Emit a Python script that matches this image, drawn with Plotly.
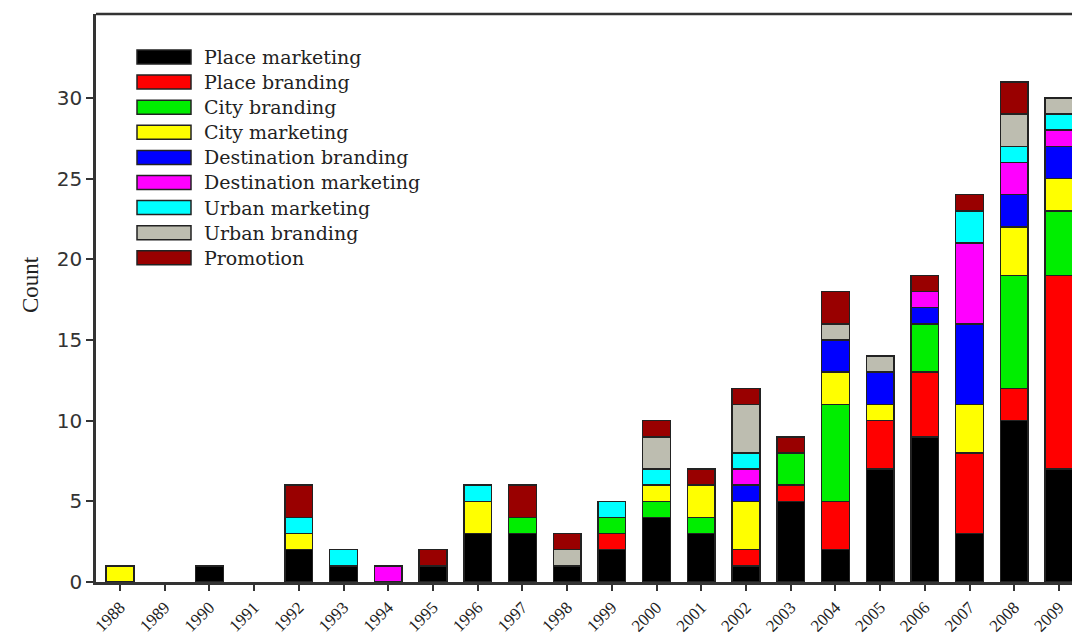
import plotly.graph_objects as go

years = [str(y) for y in range(1988, 2010)]

place_marketing       = [0,0,1,0,2,1,0,1,3,3,1,2,4,3,1,5,2,7,9,3,10,7]
place_branding        = [0,0,0,0,0,0,0,0,0,0,0,1,0,0,1,1,3,3,4,5,2,12]
city_branding         = [0,0,0,0,0,0,0,0,0,1,0,1,1,1,0,2,6,0,3,0,7,4]
city_marketing        = [1,0,0,0,1,0,0,0,2,0,0,0,1,2,3,0,2,1,0,3,3,2]
destination_branding  = [0,0,0,0,0,0,0,0,0,0,0,0,0,0,1,0,2,2,1,5,2,2]
destination_marketing = [0,0,0,0,0,0,1,0,0,0,0,0,0,0,1,0,0,0,1,5,2,1]
urban_marketing       = [0,0,0,0,1,1,0,0,1,0,0,1,1,0,1,0,0,0,0,2,1,1]
urban_branding        = [0,0,0,0,0,0,0,0,0,0,1,0,2,0,3,0,1,1,0,0,2,1]
promotion             = [0,0,0,0,2,0,0,1,0,2,1,0,1,1,1,1,2,0,1,1,2,0]

series_names = ["Place marketing", "Place branding", "City branding", "City marketing",
                "Destination branding", "Destination marketing", "Urban marketing",
                "Urban branding", "Promotion"]
series_values = [place_marketing, place_branding, city_branding, city_marketing,
                 destination_branding, destination_marketing, urban_marketing,
                 urban_branding, promotion]
series_colors = ["#000000", "#ff0000", "#00ee00", "#ffff00", "#0000ff", "#ff00ff",
                 "#00ffff", "#bdbdb0", "#990000"]

y_ticks = [0, 5, 10, 15, 20, 25, 30]

fig = go.Figure()
for name, vals, col in zip(series_names, series_values, series_colors):
    fig.add_trace(go.Bar(x=years, y=[v if v else None for v in vals], name=name,
                         marker_color=col,
                         marker_line_color="#222222", marker_line_width=1.5,
                         showlegend=False))

W, H = 1072, 639
L, T, R, B = 96, 14, 0, 57
pw, ph = W - L - R, H - T - B

def px2paper(px, py):
    return (px - L) / pw, (H - B - py) / ph

shapes = []
annotations = []
for i, (name, col) in enumerate(zip(series_names, series_colors)):
    cy = 57 + i * 25.1
    x0, y0 = px2paper(137, cy - 7)
    x1, y1 = px2paper(191, cy + 7)
    shapes.append(dict(type="rect", xref="paper", yref="paper", x0=x0, x1=x1,
                       y0=y1, y1=y0, fillcolor=col,
                       line=dict(color="#222222", width=1.5)))
    tx, ty = px2paper(202, cy)
    annotations.append(dict(xref="paper", yref="paper", x=tx, y=ty, text=name,
                            showarrow=False, xanchor="left", yanchor="middle",
                            font=dict(family="DejaVu Serif", size=19, color="#222222")))

cx, cy = px2paper(30, 285)
annotations.append(dict(xref="paper", yref="paper", x=cx, y=cy, text="Count",
                        textangle=-90, showarrow=False, xanchor="center", yanchor="middle",
                        font=dict(family="Liberation Serif", size=23, color="#222222")))

shapes.append(dict(type="line", xref="paper", yref="paper", x0=0, x1=1, y0=1, y1=1,
                   line=dict(color="#333333", width=2.5)))

fig.update_layout(
    width=W, height=H,
    margin=dict(l=L, r=R, t=T, b=B, autoexpand=False),
    paper_bgcolor="white", plot_bgcolor="white",
    barmode="stack", bargap=0.38,
    shapes=shapes, annotations=annotations,
    xaxis=dict(type="category", range=[-0.536, 21.29], tickangle=-45,
               ticks="outside", ticklen=6, tickwidth=2, tickcolor="#333333",
               showline=True, linecolor="#333333", linewidth=2.5,
               showgrid=False, zeroline=False, automargin=False,
               tickfont=dict(family="Liberation Serif", size=17, color="#222222")),
    yaxis=dict(range=[0, 35.2], tickvals=y_ticks,
               ticks="outside", ticklen=7, tickwidth=2, tickcolor="#333333",
               showline=True, linecolor="#333333", linewidth=2.5,
               showgrid=False, zeroline=False, automargin=False,
               tickfont=dict(family="DejaVu Sans", size=20, color="#333333")),
)

fig.write_html("out.html")
